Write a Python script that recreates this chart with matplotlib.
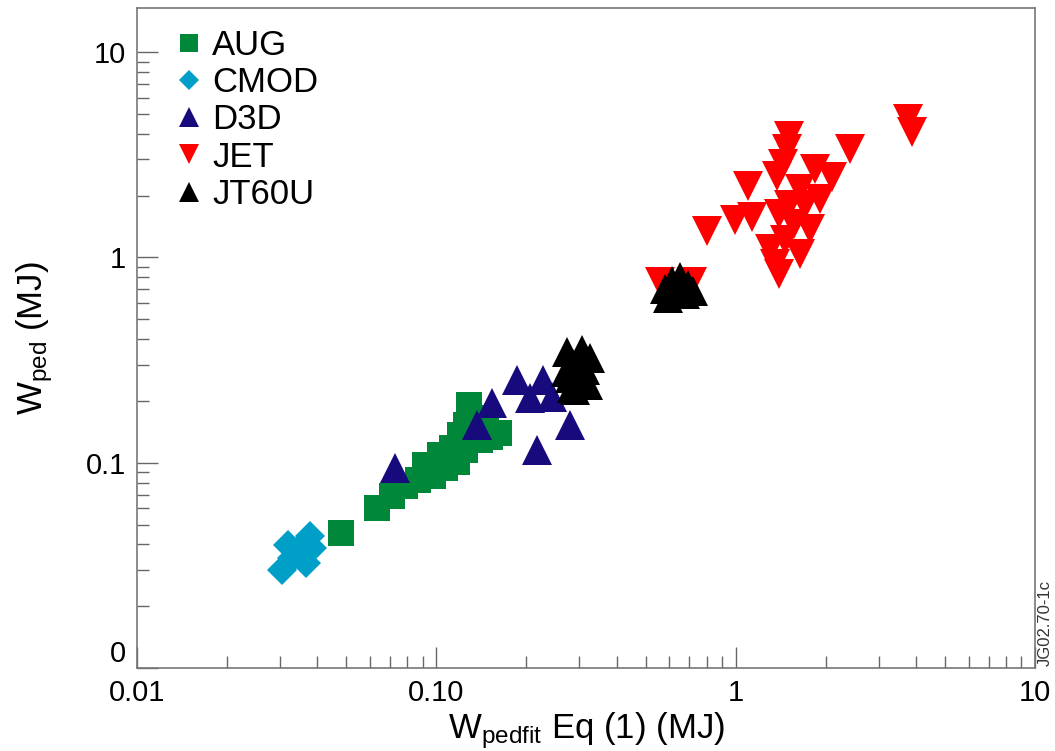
import matplotlib.pyplot as plt

plt.rcParams["font.family"] = "Liberation Sans"
plt.rcParams["mathtext.default"] = "regular"

# values (MJ)
AUG_X = [0.0480, 0.0633, 0.0710, 0.0785, 0.0867, 0.0973, 0.0916, 0.1067, 0.1170, 0.1028, 0.1127,
         0.1245, 0.1294, 0.1397, 0.1198, 0.1256, 0.1285, 0.1315, 0.151, 0.1618, 0.1462]
AUG_Y = [0.0456, 0.0603, 0.0690, 0.0772, 0.0826, 0.0865, 0.0978, 0.0946, 0.1011, 0.1094, 0.1183,
         0.1157, 0.1295, 0.1295, 0.1370, 0.1531, 0.1919, 0.1660, 0.1340, 0.1400, 0.1483]

CMOD_X = [0.0305, 0.0329, 0.0350, 0.0378, 0.0319, 0.0345, 0.0366, 0.0384]
CMOD_Y = [0.0301, 0.0344, 0.0385, 0.0440, 0.0398, 0.0364, 0.0325, 0.0385]

D3D_X = [0.0726, 0.1366, 0.153, 0.1857, 0.227, 0.205, 0.243, 0.279, 0.2167]
D3D_Y = [0.0946, 0.153, 0.196, 0.254, 0.254, 0.2075, 0.21, 0.153, 0.1157]

JET_X = [3.75, 3.87, 2.40, 1.096, 0.800, 0.993, 1.13, 1.51, 1.48, 1.44, 1.37, 1.84, 2.09, 1.64,
         1.51, 1.70, 1.40, 1.57, 1.77, 1.46, 1.30, 1.64, 1.35, 1.40, 1.91, 0.557, 0.713]
JET_Y = [4.71, 4.07, 3.36, 2.24, 1.34, 1.53, 1.57, 3.89, 3.36, 2.84, 2.48, 2.69, 2.46, 2.15,
         1.81, 1.81, 1.62, 1.45, 1.37, 1.22, 1.094, 1.035, 0.925, 0.826, 1.92, 0.755, 0.755]

JT60U_X = [0.273, 0.306, 0.325, 0.286, 0.313, 0.279, 0.301, 0.290, 0.321, 0.270, 0.283, 0.305,
           0.579, 0.611, 0.650, 0.691, 0.718, 0.631, 0.593, 0.676, 0.640]
JT60U_Y = [0.348, 0.356, 0.325, 0.301, 0.284, 0.260, 0.248, 0.227, 0.240, 0.278, 0.232, 0.265,
           0.698, 0.764, 0.799, 0.738, 0.683, 0.661, 0.638, 0.661, 0.714]

X_TICKS = [0.01, 0.1, 1, 10]
X_TICK_LABELS = ["0.01", "0.10", "1", "10"]
Y_TICKS = [0.01, 0.1, 1, 10]
Y_TICK_LABELS = ["0", "0.1", "1", "10"]

SERIES = [
    ("AUG", AUG_X, AUG_Y, "s", 19, "#00873a"),
    ("CMOD", CMOD_X, CMOD_Y, "D", 15, "#009fc8"),
    ("D3D", D3D_X, D3D_Y, "^", 21, "#170a7d"),
    ("JET", JET_X, JET_Y, "v", 21, "#ff0000"),
    ("JT60U", JT60U_X, JT60U_Y, "^", 21, "black"),
]

figure = plt.figure(figsize=(10.55, 7.51), dpi=100)
ax = figure.add_axes([0.1299, 0.1105, 0.8512, 0.8788])

for name, xs, ys, marker, size, color in SERIES:
    ax.plot(xs, ys, linestyle="none", marker=marker, markersize=size, markeredgewidth=0,
            color=color, label=name)

ax.set_xscale("log")
ax.set_yscale("log")
ax.set_xlim(0.01, 10)
ax.set_ylim(0.01, 16.4)

ax.set_xticks(X_TICKS, X_TICK_LABELS)
ax.set_yticks(Y_TICKS, Y_TICK_LABELS)
ax.tick_params(which="both", direction="in", color="#666666", width=1.0, labelsize=21, top=False, right=False)
ax.tick_params(which="major", length=15, pad=8)
ax.tick_params(which="minor", length=8.5, labelleft=False, labelbottom=False)
# the bottom "0" sits just above the axis corner
ax.get_yticklabels()[0].set_va("bottom")
for spine in ax.spines.values():
    spine.set_color("#777777")
    spine.set_linewidth(1.2)

ax.set_xlabel(r"W$_{\mathregular{pedfit}}$ Eq (1) (MJ)", fontsize=25, labelpad=2)
ax.set_ylabel(r"W$_{\mathregular{ped}}$ (MJ)", fontsize=25, labelpad=22)

ax.legend(loc="upper left", bbox_to_anchor=(0.01, 1.005), frameon=False, markerscale=0.7,
          fontsize=25, handletextpad=0.1, labelspacing=0.12, handlelength=1.1, borderaxespad=0.3)

figure.text(0.991, 0.17, "JG02.70-1c", rotation=90, fontsize=12, color="#333333",
            ha="center", va="center")

figure.savefig("out.png", dpi=100)
